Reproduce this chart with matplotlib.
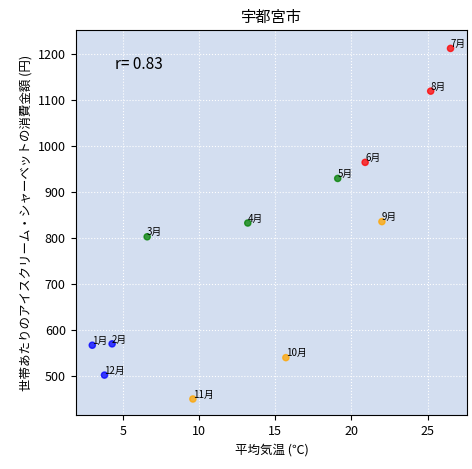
import matplotlib.pyplot as plt

plt.rcParams['font.family'] = ['Noto Sans CJK JP', 'DejaVu Sans']

months = ["1月", "2月", "3月", "4月", "5月", "6月", "7月", "8月", "9月", "10月", "11月", "12月"]
temp = [3.0, 4.3, 6.6, 13.2, 19.1, 20.9, 26.5, 25.2, 22.0, 15.7, 9.6, 3.8]
spend = [567, 570, 803, 833, 930, 965, 1213, 1120, 836, 540, 450, 502]
colors = ["blue", "blue", "green", "green", "green", "red", "red", "red",
          "orange", "orange", "orange", "blue"]

fig, ax = plt.subplots(figsize=(4.72, 4.69), dpi=100)
ax.set_facecolor("#d3def0")
ax.grid(True, color="white", linestyle=":", linewidth=0.8)
ax.set_axisbelow(True)
ax.scatter(temp, spend, c=colors, s=20, alpha=0.75, zorder=3)
for m, x, y in zip(months, temp, spend):
    ax.text(x, y + 3, m, fontsize=7, zorder=4)
ax.text(0.1, 0.9, "r= 0.83", transform=ax.transAxes, fontsize=11)
ax.set_xlim(1.9, 27.6)
ax.set_ylim(415, 1252)
ax.set_xticks([5, 10, 15, 20, 25])
ax.set_title("宇都宮市", fontsize=11)
ax.set_xlabel("平均気温 (℃)", fontsize=9)
ax.set_ylabel("世帯あたりのアイスクリーム・シャーベットの消費金額 (円)", fontsize=9)
ax.tick_params(labelsize=9)
fig.subplots_adjust(left=0.16, right=0.99, top=0.935, bottom=0.115)
fig.savefig("out.png")
